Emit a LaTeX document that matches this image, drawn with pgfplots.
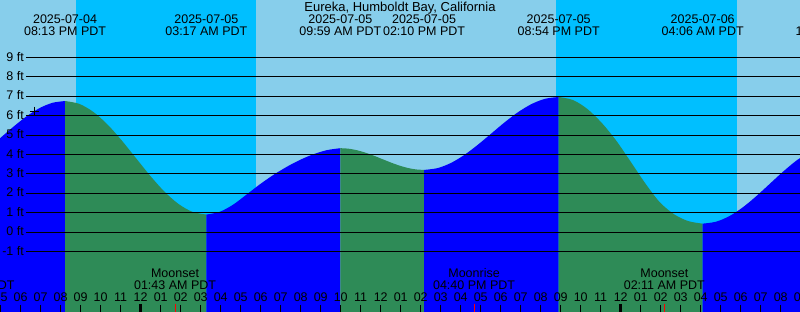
\documentclass[border=0pt]{standalone}
\usepackage{fontspec}
\setmainfont{Liberation Sans}
\usepackage{pgfplots}
\pgfplotsset{compat=1.18}
\definecolor{sky}{HTML}{87CEEB}
\definecolor{night}{HTML}{00BFFF}
\definecolor{rise}{HTML}{0000FF}
\definecolor{fall}{HTML}{2E8B57}
\tikzset{lab/.style={font=\fontsize{12.5}{14}\selectfont, inner sep=0pt, anchor=base, text depth=0pt}}
\newcommand\ev[3]{\node[lab] at (axis cs:#1,10.722) {#2};\node[lab] at (axis cs:#1,10.103) {#3};}
\newcommand\moon[3]{\node[lab] at (axis cs:#1,-2.371) {#2};\node[lab] at (axis cs:#1,-2.954) {#3};}
\begin{document}
\begin{tikzpicture}
\path[use as bounding box, clip] (0,0) rectangle (800pt,312pt);
\begin{axis}[at={(0,0)}, anchor=south west, scale only axis, width=800pt, height=312pt,
  xmin=-7.035, xmax=32.965, ymin=-4.124, ymax=11.959, hide axis]
% background
\addplot[fill=sky, draw=none] coordinates {(-8,-5) (-8,13) (34,13) (34,-5)} -- cycle;
% night
\addplot[fill=night, draw=none] coordinates {(-3.235,-5) (-3.235,13) (5.75,13) (5.75,-5)} -- cycle;
\addplot[fill=night, draw=none] coordinates {(20.77,-5) (20.77,13) (29.83,13) (29.83,-5)} -- cycle;
% tide: rising (blue) and falling (green)
\addplot[fill=rise, draw=none, smooth] coordinates {(-7.984,4.059) (-7.384,4.531) (-6.784,5.055) (-6.184,5.579) (-5.584,6.051) (-4.983,6.426) (-4.383,6.667) (-3.783,6.75)} -- (axis cs:-3.783,-5) -- (axis cs:-7.984,-5) -- cycle;
\addplot[fill=fall, draw=none, smooth] coordinates {(-3.783,6.75) (-3.076,6.607) (-2.370,6.191) (-1.663,5.544) (-0.957,4.729) (-0.250,3.825) (0.457,2.921) (1.163,2.106) (1.870,1.459) (2.576,1.043) (3.283,0.9)} -- (axis cs:3.283,-5) -- (axis cs:-3.783,-5) -- cycle;
\addplot[fill=rise, draw=none, smooth] coordinates {(3.283,0.9) (3.953,1.04) (4.623,1.41) (5.293,1.93) (5.963,2.46) (6.633,2.94) (7.303,3.36) (7.973,3.72) (8.643,4.01) (9.313,4.22) (9.983,4.32)} -- (axis cs:9.983,-5) -- (axis cs:3.283,-5) -- cycle;
\addplot[fill=fall, draw=none, smooth] coordinates {(9.983,4.32) (10.401,4.293) (10.820,4.213) (11.238,4.089) (11.657,3.933) (12.075,3.76) (12.493,3.587) (12.912,3.431) (13.330,3.307) (13.749,3.227) (14.167,3.2)} -- (axis cs:14.167,-5) -- (axis cs:9.983,-5) -- cycle;
\addplot[fill=rise, draw=none, smooth] coordinates {(14.167,3.2) (14.840,3.292) (15.514,3.559) (16.187,3.975) (16.860,4.499) (17.534,5.08) (18.207,5.661) (18.880,6.185) (19.553,6.601) (20.227,6.868) (20.9,6.96)} -- (axis cs:20.9,-5) -- (axis cs:14.167,-5) -- cycle;
\addplot[fill=fall, draw=none, smooth] coordinates {(20.9,6.96) (21.62,6.800) (22.34,6.336) (23.06,5.614) (23.78,4.704) (24.50,3.62) (25.22,2.52) (25.94,1.55) (26.66,0.92) (27.38,0.56) (28.10,0.43)} -- (axis cs:28.10,-5) -- (axis cs:20.9,-5) -- cycle;
\addplot[fill=rise, draw=none, smooth] coordinates {(28.10,0.43) (28.77,0.530) (29.44,0.822) (30.11,1.275) (30.78,1.847) (31.45,2.480) (32.12,3.113) (32.79,3.685) (33.46,4.138)} -- (axis cs:33.46,-5) -- (axis cs:28.10,-5) -- cycle;
% foot lines and labels
\pgfplotsinvokeforeach{-1,...,9}{
  \addplot[black, line width=0.9pt] coordinates {(-5.735,#1) (33.5,#1)};
  \node[lab, anchor=base east, yshift=-3.7pt] at (axis cs:-5.835,#1) {#1 ft};
}
% current time mark
\addplot[only marks, mark=+, mark size=4.5pt, black, line width=0.8pt] coordinates {(-5.32,6.23)};
% hour ticks and labels
\pgfplotsinvokeforeach{-7,...,33}{
  \addplot[black, line width=1pt] coordinates {(#1,-3.763) (#1,-4.3)};
  \node[lab] at (axis cs:#1,-3.593) {\pgfmathtruncatemacro\hh{mod(#1+35,12)+1}\ifnum\hh<10 0\fi\hh};
}
\addplot[black, line width=3pt] coordinates {(0,-3.71) (0,-4.3)};
\addplot[black, line width=3pt] coordinates {(24,-3.71) (24,-4.3)};
\addplot[red, line width=1pt] coordinates {(1.717,-3.71) (1.717,-4.3)};
\addplot[red, line width=1pt] coordinates {(16.667,-3.71) (16.667,-4.3)};
\addplot[red, line width=1pt] coordinates {(26.183,-3.71) (26.183,-4.3)};
% moon labels
\moon{-8.36}{Moonrise}{03:38 PM PDT}
\moon{1.717}{Moonset}{01:43 AM PDT}
\moon{16.667}{Moonrise}{04:40 PM PDT}
\moon{26.183}{Moonset}{02:11 AM PDT}
% title and tide events
\node[lab, font=\fontsize{13}{15}\selectfont] at (axis cs:12.965,11.356) {Eureka, Humboldt Bay, California};
\ev{-3.783}{2025-07-04}{08:13 PM PDT}
\ev{3.283}{2025-07-05}{03:17 AM PDT}
\ev{9.983}{2025-07-05}{09:59 AM PDT}
\ev{14.167}{2025-07-05}{02:10 PM PDT}
\ev{20.9}{2025-07-05}{08:54 PM PDT}
\ev{28.1}{2025-07-06}{04:06 AM PDT}
\ev{34.8}{2025-07-06}{10:48 AM PDT}
\end{axis}
\end{tikzpicture}
\end{document}
